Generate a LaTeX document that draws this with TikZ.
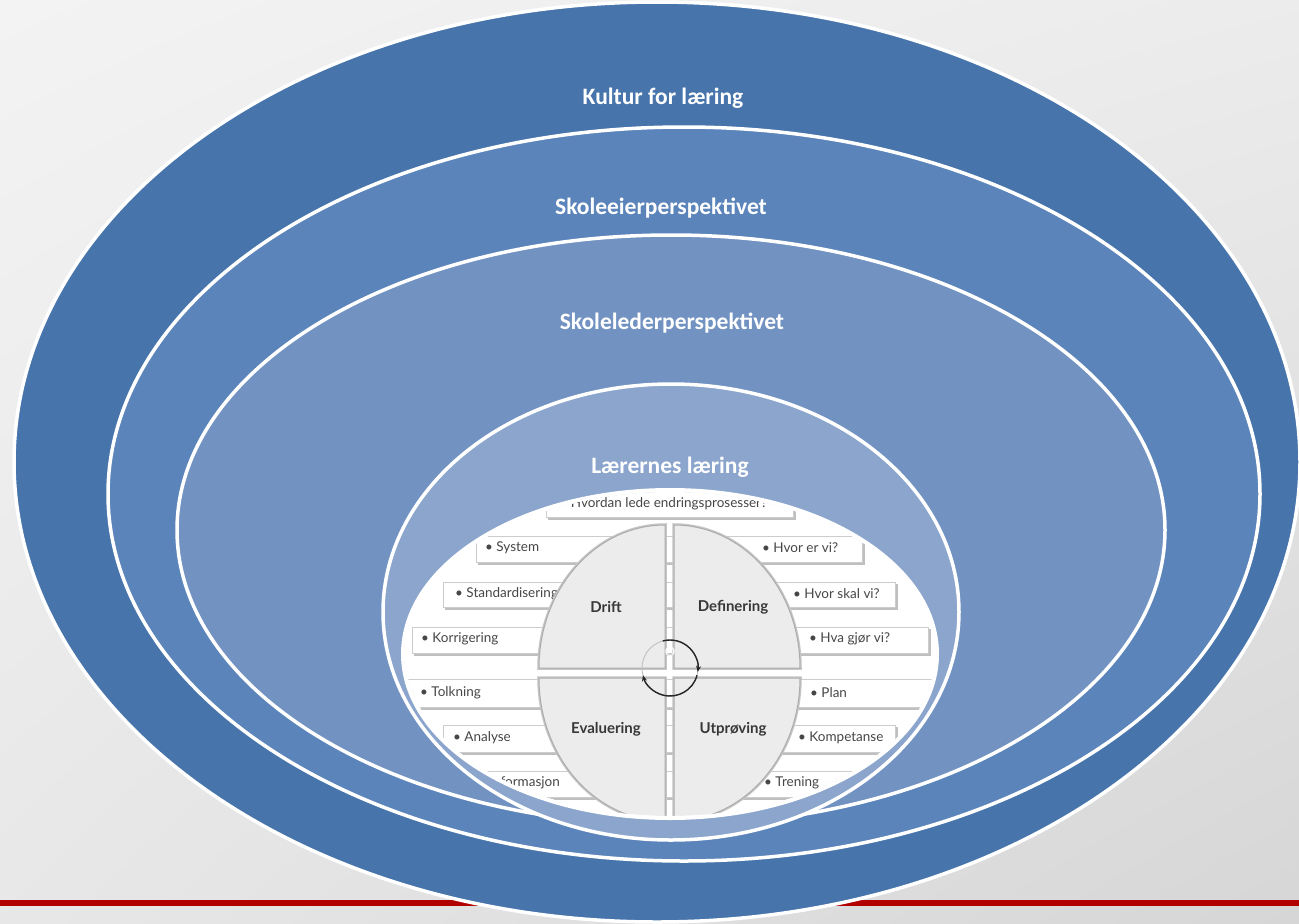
\documentclass[tikz,border=0pt]{standalone}
\usepackage{fontspec}
\setmainfont{Carlito}
\newfontfamily\picfont{Lato}
\usetikzlibrary{arrows.meta,shadings}
\definecolor{bgA}{RGB}{243,243,243}
\definecolor{bgB}{RGB}{214,214,214}
\definecolor{redline}{RGB}{178,0,0}
\definecolor{ringA}{RGB}{71,116,171}
\definecolor{ringB}{RGB}{91,132,186}
\definecolor{ringC}{RGB}{114,146,194}
\definecolor{ringD}{RGB}{139,165,205}
\definecolor{quad}{RGB}{236,236,236}
\definecolor{txtgray}{RGB}{70,70,70}
\newcommand\pbar[4]{%
  \fill[barshadow] ({#1+1.5},{#2+2}) rectangle ({#3+2.5},{#4+2.5});
  \path[bar] (#1,#2) rectangle (#3,#4);}
\begin{document}
\begin{tikzpicture}[x=1pt,y=-1pt,
  ring/.style={draw=white,line width=3.5pt},
  ringlabel/.style={text=white,font=\bfseries\fontsize{23.5}{28}\selectfont,inner sep=0pt},
  bar/.style={fill=white,draw=gray!40,line width=0.8pt},
  barshadow/.style={fill=gray!50},
  item/.style={anchor=west,text=txtgray,font=\picfont\fontsize{13.5}{15}\selectfont,inner sep=0pt},
  quadrant/.style={fill=quad,draw=gray!65,line width=1pt},
  qshadow/.style={draw=gray!45,line width=3.5pt},
  qlabel/.style={text=black!78,font=\picfont\bfseries\fontsize{15}{17}\selectfont,inner sep=0pt},
  cyc/.style={black!85,line width=1.4pt,-{Stealth[length=6pt,width=5pt]}}]
\useasboundingbox (0,0) rectangle (1299,924);
\shade[upper left=bgA, upper right=bgA!75!bgB, lower left=bgA!60!bgB, lower right=bgB] (0,0) rectangle (1299,924);
\fill[redline] (0,900) rectangle (1299,906);
% rings
\path[ring, fill=ringA] (657,462) ellipse [x radius=643pt, y radius=460pt];
\path[ring, fill=ringB] (684,494) ellipse [x radius=576pt, y radius=367pt];
\path[ring, fill=ringC] (671,530) ellipse [x radius=494pt, y radius=295pt];
\path[ring, fill=ringD] (671,612) ellipse [x radius=288pt, y radius=228pt];
\node[ringlabel] (kultur) at (663,98) {Kultur for læring};
\node[ringlabel] (eier) at (661,208) {Skoleeierperspektivet};
\node[ringlabel] (leder) at (672,323) {Skolelederperspektivet};
\node[ringlabel] (laerer) at (670,467) {Lærernes læring};
% inner picture
\path[fill=white] (670,654) ellipse [x radius=267pt, y radius=164pt];
\begin{scope}
\clip (670,654) ellipse [x radius=265pt, y radius=162pt];
\pbar{546}{470}{793}{517}
\node[anchor=base,text=txtgray,font=\picfont\fontsize{13.5}{15}\selectfont,inner sep=0pt] (hvordan) at (669,507) {Hvordan lede endringsprosesser?};
\pbar{476}{536}{700}{562}
\pbar{443}{582}{700}{607}
\pbar{412}{627}{700}{653}
\pbar{640}{536}{862}{562}
\pbar{640}{582}{895}{607}
\pbar{640}{627}{928}{653}
\pbar{360}{679}{700}{707}
\pbar{443}{725}{700}{752}
\pbar{476}{771}{700}{797}
\pbar{640}{679}{990}{707}
\pbar{640}{725}{895}{752}
\pbar{640}{771}{862}{797}
\node[item] (system) at (485,548) {• System};
\node[item] (standard) at (455,594) {• Standardisering};
\node[item] (korr) at (421,639) {• Korrigering};
\node[item] (hvorer) at (762,548) {• Hvor er vi?};
\node[item] (hvorskal) at (793,594) {• Hvor skal vi?};
\node[item] (hvagjor) at (809,639) {• Hva gjør vi?};
\node[item] (tolk) at (420,693) {• Tolkning};
\node[item] (analyse) at (453,738) {• Analyse};
\node[item] (info) at (478,783) {• Informasjon};
\node[item] (plan) at (810,693) {• Plan};
\node[item] (komp) at (798,738) {• Kompetanse};
\node[item] (trening) at (764,783) {• Trening};
% quadrants
\path[qshadow] (665,668) -- (539,668) .. controls (539,589) and (595.4,525) .. (665,525) -- cycle;
\path[qshadow] (674,668) -- (800,668) .. controls (800,589) and (743.6,525) .. (674,525) -- cycle;
\path[qshadow] (665,678) -- (539,678) .. controls (539,757) and (595.4,821) .. (665,821) -- cycle;
\path[qshadow] (674,678) -- (800,678) .. controls (800,757) and (743.6,821) .. (674,821) -- cycle;
\path[quadrant] (665,668) -- (539,668) .. controls (539,589) and (595.4,525) .. (665,525) -- cycle;
\path[quadrant] (674,668) -- (800,668) .. controls (800,589) and (743.6,525) .. (674,525) -- cycle;
\path[quadrant] (665,678) -- (539,678) .. controls (539,757) and (595.4,821) .. (665,821) -- cycle;
\path[quadrant] (674,678) -- (800,678) .. controls (800,757) and (743.6,821) .. (674,821) -- cycle;
\node[qlabel] (drift) at (606,607) {Drift};
\node[qlabel] (defin) at (733,607) {Definering};
\node[qlabel] (eval) at (606,729) {Evaluering};
\node[qlabel] (utpr) at (733,729) {Utprøving};
% cycle
\coordinate (cc) at (670,668);
\draw[gray!50,line width=0.9pt] (cc) circle [radius=28pt];
\draw[cyc] ([shift={(105:28pt)}]cc) arc [start angle=105, end angle=-8, radius=28pt];
\draw[cyc] ([shift={(-15:28pt)}]cc) arc [start angle=-15, end angle=-165, radius=28pt];
\node[text=white,font=\picfont\fontsize{13}{15}\selectfont,inner sep=0pt] (o) at (670,652) {O};
\end{scope}
\draw[white,line width=4pt] (670,654) ellipse [x radius=267pt, y radius=164pt];
\end{tikzpicture}
\end{document}
